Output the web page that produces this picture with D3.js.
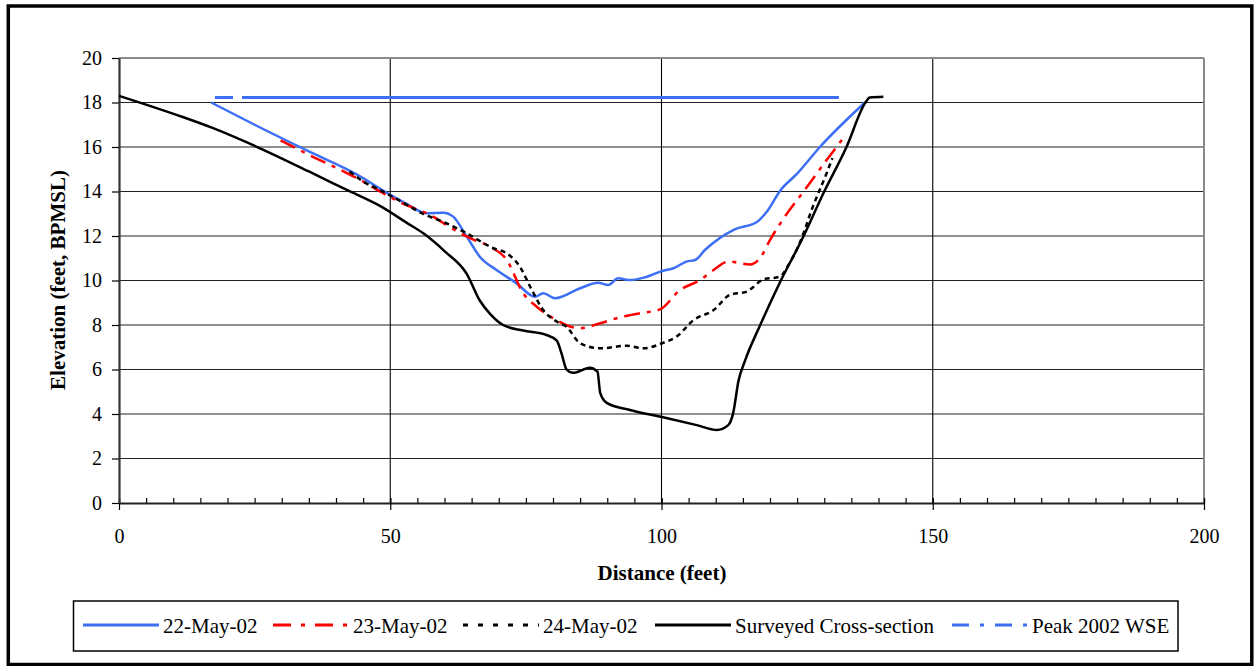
<!DOCTYPE html>
<html>
<head>
<meta charset="utf-8">
<script src="https://cdn.jsdelivr.net/npm/d3@7"></script>
<style>
  body { margin: 0; background: #fff; }
  text { font-family: "Liberation Serif", "Times New Roman", serif; fill: #000; }
</style>
</head>
<body>
<svg id="chart" width="1254" height="666"></svg>
<script>
// axis ticks
var xTicks = [0, 50, 100, 150, 200];
var xMinorTicks = d3.range(0, 201, 5);
var yTicks = [0, 2, 4, 6, 8, 10, 12, 14, 16, 18, 20];

// [distance (feet), elevation (feet)]
var may22 = [[17,18.0],[25,17.0],[35,15.8],[43.8,14.77],[50,13.85],[53,13.45],[56.7,13.02],[59.8,13.05],
  [61.6,12.87],[64.1,11.97],[66.5,11.07],[69.6,10.47],[73.3,9.87],[76.7,9.27],[78.2,9.43],[80.4,9.2],
  [85,9.65],[88.3,9.9],[90.2,9.8],[92,10.1],[94.2,10.02],[97.3,10.17],[100.3,10.44],[102.2,10.55],
  [104.6,10.85],[106.2,10.92],[108,11.37],[113.5,12.3],[117.5,12.62],[119.4,13.09],[121.9,14.05],
  [125,14.8],[129.2,16.0],[137.5,18.0]];

var may23 = [[29.8,16.3],[35,15.65],[42,14.83],[45,14.45],[48.1,14.0],[52,13.5],[57.9,12.87],[61,12.4],
  [64.7,11.9],[68.4,11.52],[71.5,10.92],[74.5,9.43],[77,8.82],[80.1,8.3],[85,7.85],[88.7,8.08],
  [92.4,8.35],[96,8.53],[99.7,8.7],[103.4,9.57],[107.1,10.02],[109.6,10.47],[112.3,10.85],[116.3,10.72],
  [118.2,11.02],[120,11.82],[121.9,12.57],[126.8,14.2],[130.4,15.4],[133.5,16.4]];

var may24 = [[42.5,14.9],[45,14.45],[48.1,14.07],[52,13.55],[56,13.0],[60.4,12.57],[64.1,12.12],
  [69,11.45],[71.5,11.22],[73.9,10.62],[75.8,9.72],[78.2,8.67],[80.7,8.15],[82.5,7.92],[85,7.18],
  [88.7,6.95],[93.6,7.07],[96.6,6.95],[100.3,7.2],[102.8,7.48],[105.9,8.22],[109.6,8.67],[112.6,9.35],
  [115.7,9.5],[118.8,10.05],[121.8,10.17],[123.4,10.7],[125.5,11.7],[127.9,13.32],[130.4,14.8],[131.5,15.5]];

var surveyed = [[0,18.3],[11.6,17.36],[17,16.88],[26.2,15.92],[35,14.9],[42,14.07],[48.1,13.35],
  [53,12.6],[56.1,12.12],[60.1,11.3],[64.1,10.3],[66.5,9.1],[68.4,8.5],[70.8,8.0],[74.5,7.75],
  [78.8,7.55],[80.7,7.3],[81.6,6.7],[82.5,6.0],[83.7,5.85],[86.8,6.08],[88.2,5.9],[88.7,4.95],
  [89.9,4.5],[94.2,4.18],[100.3,3.85],[106.5,3.5],[110.2,3.28],[112.3,3.5],[113.2,4.03],[114.2,5.5],
  [115.4,6.4],[118.2,8.0],[121.8,9.9],[126,11.9],[129.8,13.9],[134.1,16.0],[137.5,17.96],
  [138.4,18.23],[140.9,18.26]];

var peak2002 = [[17.7,18.22],[132.7,18.22]];

var seriesNames = ["22-May-02", "23-May-02", "24-May-02", "Surveyed Cross-section", "Peak 2002 WSE"];
var seriesData = [may22, may23, may24, surveyed, peak2002];

// line look for each series (plot, legend)
var styles = [
  {color: "#3d6ff5", dash: null, legendDash: null},
  {color: "#ff0000", dash: "16,7,4,7", legendDash: "18,10,4,10"},
  {color: "#000000", dash: "5,4", legendDash: "5,10"},
  {color: "#000000", dash: null, legendDash: null},
  {color: "#3d6ff5", dash: "18,9,2000", legendDash: "17,11,4,11"}
];

var svg = d3.select("#chart");
var margin = {top: 58, right: 50, bottom: 163, left: 119};
var width = 1204 - margin.left;   // plot width
var height = 503 - margin.top;    // plot height

// outer frame
svg.append("rect")
  .attr("x", 8.3).attr("y", 6)
  .attr("width", 1243.5).attr("height", 658.5)
  .attr("fill", "none").attr("stroke", "#000").attr("stroke-width", 3.5);

var g = svg.append("g")
  .attr("transform", "translate(" + margin.left + "," + margin.top + ")");

var x = d3.scaleLinear().domain([0, 200]).range([0, width]);
var y = d3.scaleLinear().domain([0, 20]).range([height, 0]);

// horizontal grid
g.selectAll(".hgrid")
  .data(yTicks.filter(function(d){ return d > 0 && d < 20; }))
  .enter().append("line")
    .attr("class", "hgrid")
    .attr("x1", 0).attr("x2", width)
    .attr("y1", function(d){ return y(d); })
    .attr("y2", function(d){ return y(d); })
    .attr("stroke", "#222").attr("stroke-width", 1.1);

// vertical grid
g.selectAll(".vgrid")
  .data(xTicks.filter(function(d){ return d > 0 && d < 200; }))
  .enter().append("line")
    .attr("class", "vgrid")
    .attr("x1", function(d){ return x(d); })
    .attr("x2", function(d){ return x(d); })
    .attr("y1", 0).attr("y2", height)
    .attr("stroke", "#000").attr("stroke-width", 1.1);

// top and right borders of plot area
g.append("line").attr("x1", 0).attr("x2", width).attr("y1", 0).attr("y2", 0)
  .attr("stroke", "#8a8a8a").attr("stroke-width", 2);
g.append("line").attr("x1", width).attr("x2", width).attr("y1", 0).attr("y2", height)
  .attr("stroke", "#8a8a8a").attr("stroke-width", 2);

// minor x ticks (inside)
g.append("g")
  .attr("transform", "translate(0," + height + ")")
  .call(d3.axisTop(x).tickValues(xMinorTicks).tickSize(5).tickSizeOuter(0).tickFormat(""))
  .call(function(a){
    a.select(".domain").remove();
    a.selectAll(".tick line").attr("stroke", "#000").attr("stroke-width", 1.2);
  });

// x axis
g.append("g")
  .attr("transform", "translate(0," + height + ")")
  .call(d3.axisBottom(x).tickValues(xTicks).tickSize(7).tickSizeOuter(0).tickPadding(19))
  .call(function(a){
    a.select(".domain").attr("stroke", "#222").attr("stroke-width", 2.2);
    a.selectAll(".tick line").attr("y1", -5).attr("stroke", "#000").attr("stroke-width", 1.2);
    a.selectAll(".tick text").attr("font-size", 20)
      .style("font-family", "'Liberation Serif', 'Times New Roman', serif");
  });

// y axis
g.append("g")
  .call(d3.axisLeft(y).tickValues(yTicks).tickSize(7).tickSizeOuter(0).tickPadding(10))
  .call(function(a){
    a.select(".domain").attr("stroke", "#333").attr("stroke-width", 2.2);
    a.selectAll(".tick line").attr("stroke", "#000").attr("stroke-width", 1.2);
    a.selectAll(".tick text").attr("font-size", 20)
      .style("font-family", "'Liberation Serif', 'Times New Roman', serif");
  });

// series lines
var line = d3.line()
  .x(function(d){ return x(d[0]); })
  .y(function(d){ return y(d[1]); })
  .curve(d3.curveMonotoneX);

seriesData.forEach(function(data, i){
  g.append("path")
    .datum(data)
    .attr("d", line)
    .attr("fill", "none")
    .attr("stroke", styles[i].color)
    .attr("stroke-width", i == 4 ? 3 : 2.5)
    .attr("stroke-dasharray", styles[i].dash)
    .attr("stroke-linejoin", "round");
});

// axis titles
svg.append("text")
  .attr("x", 662).attr("y", 580)
  .attr("text-anchor", "middle")
  .attr("font-size", 21).attr("font-weight", "bold")
  .text("Distance (feet)");

svg.append("text")
  .attr("transform", "translate(65,280) rotate(-90)")
  .attr("text-anchor", "middle")
  .attr("font-size", 21).attr("font-weight", "bold")
  .text("Elevation (feet, BPMSL)");

// legend
var legend = svg.append("g");
legend.append("rect")
  .attr("x", 73.5).attr("y", 601)
  .attr("width", 1104.5).attr("height", 50)
  .attr("fill", "#fff").attr("stroke", "#000").attr("stroke-width", 1.5);

var legendX = [83, 273, 463, 655, 952];
seriesNames.forEach(function(name, i){
  legend.append("line")
    .attr("x1", legendX[i]).attr("x2", legendX[i] + 76)
    .attr("y1", 625).attr("y2", 625)
    .attr("stroke", styles[i].color)
    .attr("stroke-width", 3)
    .attr("stroke-dasharray", styles[i].legendDash);
  legend.append("text")
    .attr("x", legendX[i] + 80).attr("y", 633)
    .attr("font-size", 21)
    .text(name);
});
</script>
</body>
</html>
